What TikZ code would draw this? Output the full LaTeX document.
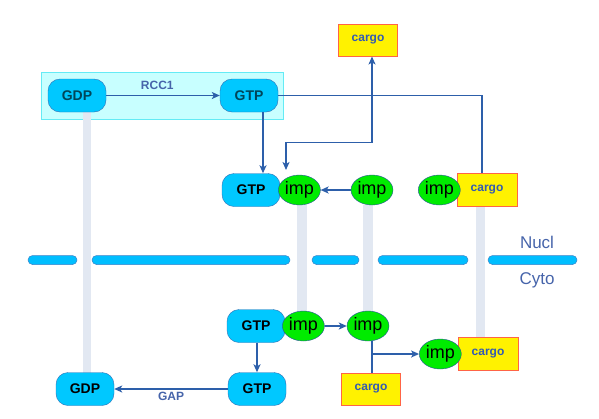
\documentclass[tikz,border=0pt]{standalone}
\usepackage{fontspec}
\setmainfont{Liberation Sans}
\usepackage{tikz}
\usetikzlibrary{calc}
\usetikzlibrary{arrows.meta,shapes,backgrounds}
\usetikzlibrary{positioning}
\definecolor{ranblue}{RGB}{0,200,255}
\definecolor{ranedge}{RGB}{50,110,180}
\definecolor{impgreen}{RGB}{0,235,0}
\definecolor{impedge}{RGB}{40,80,160}
\definecolor{cargoedge}{RGB}{255,100,70}
\definecolor{cargotext}{RGB}{50,90,180}
\definecolor{arrblue}{RGB}{45,95,170}
\definecolor{lblblue}{RGB}{70,100,170}
\definecolor{bargray}{RGB}{226,232,242}
\definecolor{memblue}{RGB}{0,190,255}
\definecolor{memedge}{RGB}{60,130,200}
\definecolor{hlfill}{RGB}{200,255,255}
\definecolor{hledge}{RGB}{100,235,245}
\definecolor{darkteal}{RGB}{0,70,90}

\begin{document}
\begin{tikzpicture}[x=1pt,y=-1pt,
  ran/.style={draw=ranedge,fill=ranblue,rounded corners=12pt,minimum width=58pt,
    minimum height=33pt,inner sep=0pt,font=\fontsize{14}{14}\selectfont\bfseries},
  imp/.style={ellipse,draw=impedge,fill=impgreen,minimum width=42pt,minimum height=30pt,
    inner sep=0pt,font=\fontsize{18}{18}\selectfont},
  cargo/.style={draw=cargoedge,fill=yellow,line width=1pt,minimum width=60pt,
    minimum height=33pt,text=cargotext,font=\fontsize{12}{12}\selectfont\bfseries},
  arr/.style={draw=arrblue,line width=1.8pt,-{Stealth[length=8pt,width=7pt,inset=2pt]}},
  ln/.style={draw=arrblue,line width=1.8pt},
  lbl/.style={text=lblblue,inner sep=1pt,font=\fontsize{12}{12}\selectfont\bfseries},
  side/.style={text=lblblue,font=\fontsize{17}{17}\selectfont}]
  \useasboundingbox (0,0) rectangle (599,418);
  \filldraw[fill=hlfill,draw=hledge] (41,72) rectangle (283,119);
  % pores
  \fill[bargray] (83,112) rectangle (91,373);
  \fill[bargray] (297,205) rectangle (307,318);
  \fill[bargray] (363,205) rectangle (373,314);
  \fill[bargray] (476,205) rectangle (485,340);
  \foreach \a/\b in {28/77,92/290,312/359,378/468,488/577}
    \filldraw[fill=memblue,draw=memedge,line width=0.5pt,rounded corners=4.5pt]
      (\a,255.5) rectangle (\b,264.5);
  \node[side] (nucl) at (537,242) {Nucl};
  \node[side] (cyto) at (537,280) {Cyto};

  \node[ran,text=darkteal] (gdpN) at (77,95.5) {GDP};
  \node[ran,text=darkteal] (gtpN) at (249,95.5) {GTP};
  \node[cargo,minimum width=59pt,minimum height=32pt] (cargoN) at (368,40) {cargo};

  \node[ran] (gtpM) at (251,190) {GTP};
  \node[imp,right=-2pt of gtpM] (impA) {imp};
  \node[imp] (impB) at (372,190) {imp};
  \node[cargo] (cargoC) at (487,190) {cargo};
  \node[imp,left=-4pt of cargoC] (impC) {imp};

  \node[ran] (gtpL) at (256,326) {GTP};
  \node[imp,right=-3pt of gtpL] (impD) {imp};
  \node[imp] (impE) at (368,326) {imp};
  \node[cargo,minimum width=59pt,minimum height=32pt] (cargoE) at (371,389) {cargo};
  \node[cargo] (cargoF) at (488,354) {cargo};
  \node[imp,left=-4pt of cargoF] (impF) {imp};
  \node[ran] (gtpG) at (257,389) {GTP};
  \node[ran] (gdpG) at (85,389) {GDP};

  \draw[arr] (gdpN.east) -- node[lbl,above=3.5pt,pos=0.45] (rcc) {RCC1} (gtpN.west);
  \draw[arr] ([xshift=14pt]gtpN.south) -- ([xshift=14pt]gtpN.south |- gtpM.north);
  \coordinate (t1) at (286,170);
  \draw[arr,{Stealth[length=8pt,width=7pt,inset=2pt]}-{Stealth[length=8pt,width=7pt,inset=2pt]}]
    ([xshift=4pt]cargoN.south) -- ++(0,86) -| (t1);
  \draw[ln] (gtpN.east) -| ([xshift=-5pt]cargoC.north);
  \draw[arr] (impB.west) -- (impA.east);

  \draw[arr] (impD.east) -- (impE.west);
  \draw[ln] ([xshift=4pt]impE.south) -- ([xshift=4pt]impE.south |- cargoE.north);
  \coordinate (j) at ([xshift=4pt]impE.south |- impF.west);
  \draw[arr] (j) -- (impF.west);
  \draw[arr] ([xshift=1pt]gtpL.south) -- ([xshift=1pt]gtpL.south |- gtpG.north);
  \draw[arr] (gtpG.west) -- node[lbl,below=1.5pt] (gap) {GAP} (gdpG.east);
\end{tikzpicture}
\end{document}
